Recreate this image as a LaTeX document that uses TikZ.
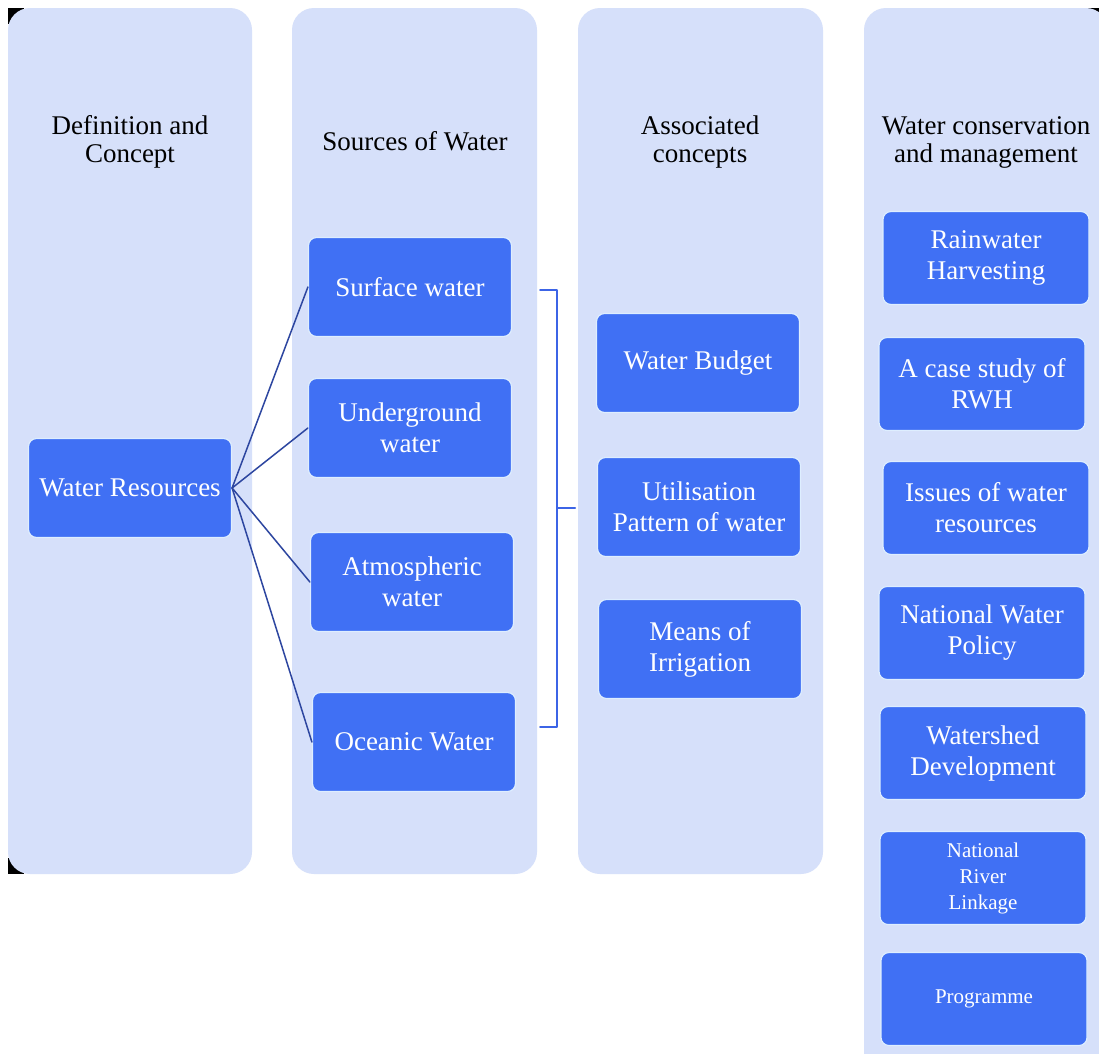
\documentclass[tikz,border=0pt]{standalone}
\usepackage{fontspec}
\setmainfont{Liberation Serif}
\definecolor{colbg}{RGB}{214,224,250}
\definecolor{boxblue}{RGB}{64,112,244}
\definecolor{boxrim}{RGB}{222,238,255}
\definecolor{linkblue}{RGB}{45,70,160}
\definecolor{brkblue}{RGB}{60,100,230}
\begin{document}
\begin{tikzpicture}[x=1pt,y=-1pt, line join=round, line cap=round,
  colm/.style={fill=colbg, rounded corners=22pt},
  head/.style={align=center, text=black, font=\fontsize{27}{28}\selectfont},
  box/.style={fill=boxblue, draw=boxrim, line width=1.2pt, rounded corners=8pt, text=white, align=center, inner sep=2pt,
    font=\fontsize{27}{31}\selectfont, minimum width=203pt, minimum height=99pt},
  cbox/.style={box, minimum width=206pt, minimum height=93pt},
  small/.style={font=\fontsize{21}{26}\selectfont},
  link/.style={draw=linkblue, line width=1.5pt},
  brk/.style={draw=brkblue, line width=2pt}]
\useasboundingbox (0,0) rectangle (1099,1053);
\fill[white] (0,0) rectangle (1099,1053);
% corner specks
\fill[black] (8,8) rectangle (24,24);
\fill[black] (8,858) rectangle (24,874);
\fill[black] (1086,8) rectangle (1099,20);
% columns
\fill[colm] (8,8) rectangle (252,874);
\fill[colm] (292,8) rectangle (537,874);
\fill[colm] (578,8) rectangle (823,874);
\fill[colm] (864,8) rectangle (1108,1075);
% headings
\node[head] (hdDef) at (130,142) {Definition and\\Concept};
\node[head] (hdSrc) at (415,141) {Sources of Water};
\node[head] (hdAssoc) at (700,142) {Associated\\concepts};
\node[head] (hdCons) at (986,142) {Water conservation\\and management};
% sources
\node[box] (res) at (130,488) {Water Resources};
\node[box] (surf) at (410,287) {Surface water};
\node[box] (under) at (410,428) {Underground\\water};
\node[box] (atmo) at (412,582) {Atmospheric\\water};
\node[box] (ocean) at (414,742) {Oceanic Water};
\foreach \n in {surf,under,atmo,ocean}
  \draw[link] (res.east) -- (\n.west);
% bracket
\coordinate (brTop) at (540,290);
\coordinate (brBot) at (540,727);
\coordinate (brMid) at (575,508);
\draw[brk] (brTop) -- ++(17,0) |- (brBot);
\draw[brk] (brMid) -- ++(-18,0);
% associated concepts
\node[box] (budget) at (698,363) {Water Budget};
\node[box] (util) at (699,507) {Utilisation\\Pattern of water};
\node[box] (irrig) at (700,649) {Means of\\Irrigation};
% conservation
\node[cbox] (rwh) at (986,258) {Rainwater\\Harvesting};
\node[cbox] (rwhcase) at (982,384) {A case study of\\RWH};
\node[cbox] (issues) at (986,508) {Issues of water\\resources};
\node[cbox] (policy) at (982,633) {National Water\\Policy};
\node[cbox] (shed) at (983,753) {Watershed\\Development};
\node[cbox, small] (river) at (983,878) {National\\River\\Linkage};
\node[cbox, small] (prog) at (984,999) {Programme};
\end{tikzpicture}
\end{document}
